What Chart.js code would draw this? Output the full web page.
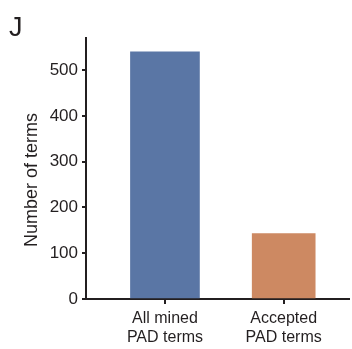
<!DOCTYPE html>
<html>
<head>
<meta charset="utf-8">
<script src="https://cdn.jsdelivr.net/npm/chart.js@4/dist/chart.umd.min.js"></script>
<style>
html,body{margin:0;padding:0;background:#fff;}
#wrap{position:relative;width:352px;height:349px;}
</style>
</head>
<body>
<div id="wrap"><canvas id="c" width="352" height="349"></canvas></div>
<script>
const categories = ["All mined\nPAD terms", "Accepted\nPAD terms"];
const values = [540, 143];
const yTickValues = [0, 100, 200, 300, 400, 500];
const barColors = ["#5a76a5", "#cd8962"];
const yTitle = "Number of terms";
const panelLabel = "J";

const FONT = "'Liberation Sans', Arial, Helvetica, sans-serif";
const INK = "#231f20";

const datasets = values.map((v, i) => ({
  data: [{x: i + 1, y: v}],
  backgroundColor: barColors[i],
  borderWidth: 0,
  barThickness: i === 0 ? 69 : 63,
  grouped: false
}));

const textPlugin = {
  id: 'texts',
  afterDraw(chart) {
    const ctx = chart.ctx;
    ctx.save();
    ctx.fillStyle = INK;
    ctx.font = "27px " + FONT;
    ctx.textAlign = 'left';
    ctx.textBaseline = 'alphabetic';
    ctx.fillText(panelLabel, 9, 36);
    ctx.translate(32, 180);
    ctx.rotate(-Math.PI / 2);
    ctx.font = "18px " + FONT;
    ctx.textAlign = 'center';
    ctx.textBaseline = 'middle';
    ctx.fillText(yTitle, 0, 0);
    ctx.restore();
  }
};

new Chart(document.getElementById('c'), {
  type: 'bar',
  data: { datasets },
  options: {
    responsive: false,
    animation: false,
    layout: { padding: { top: 38, right: 3, left: 0, bottom: 0 } },
    plugins: { legend: { display: false }, tooltip: { enabled: false } },
    scales: {
      x: {
        type: 'linear',
        min: 0.335,
        max: 2.55,
        offset: false,
        afterBuildTicks(scale) { scale.ticks = categories.map((c, i) => ({ value: i + 1 })); },
        afterFit(scale) { scale.height = 50; },
        border: { display: true, color: INK, width: 2 },
        grid: { display: true, offset: false, drawOnChartArea: false, drawTicks: true, tickLength: 5, color: INK, lineWidth: 2 },
        ticks: {
          color: INK,
          font: { family: FONT, size: 16, lineHeight: 1.2 },
          padding: 5,
          maxRotation: 0,
          autoSkip: false,
          callback: (v) => { const c = categories[Math.round(v) - 1]; return c ? c.split("\n") : ""; }
        }
      },
      y: {
        min: 0,
        max: 570,
        afterBuildTicks(scale) { scale.ticks = yTickValues.map(v => ({ value: v })); },
        afterFit(scale) { scale.width = 86; },
        border: { display: true, color: INK, width: 2 },
        grid: { display: true, offset: false, drawOnChartArea: false, drawTicks: true, tickLength: 4, color: INK, lineWidth: 2 },
        ticks: {
          color: INK,
          font: { family: FONT, size: 17 },
          padding: 4,
          autoSkip: false
        }
      }
    }
  },
  plugins: [textPlugin]
});
</script>
</body>
</html>
